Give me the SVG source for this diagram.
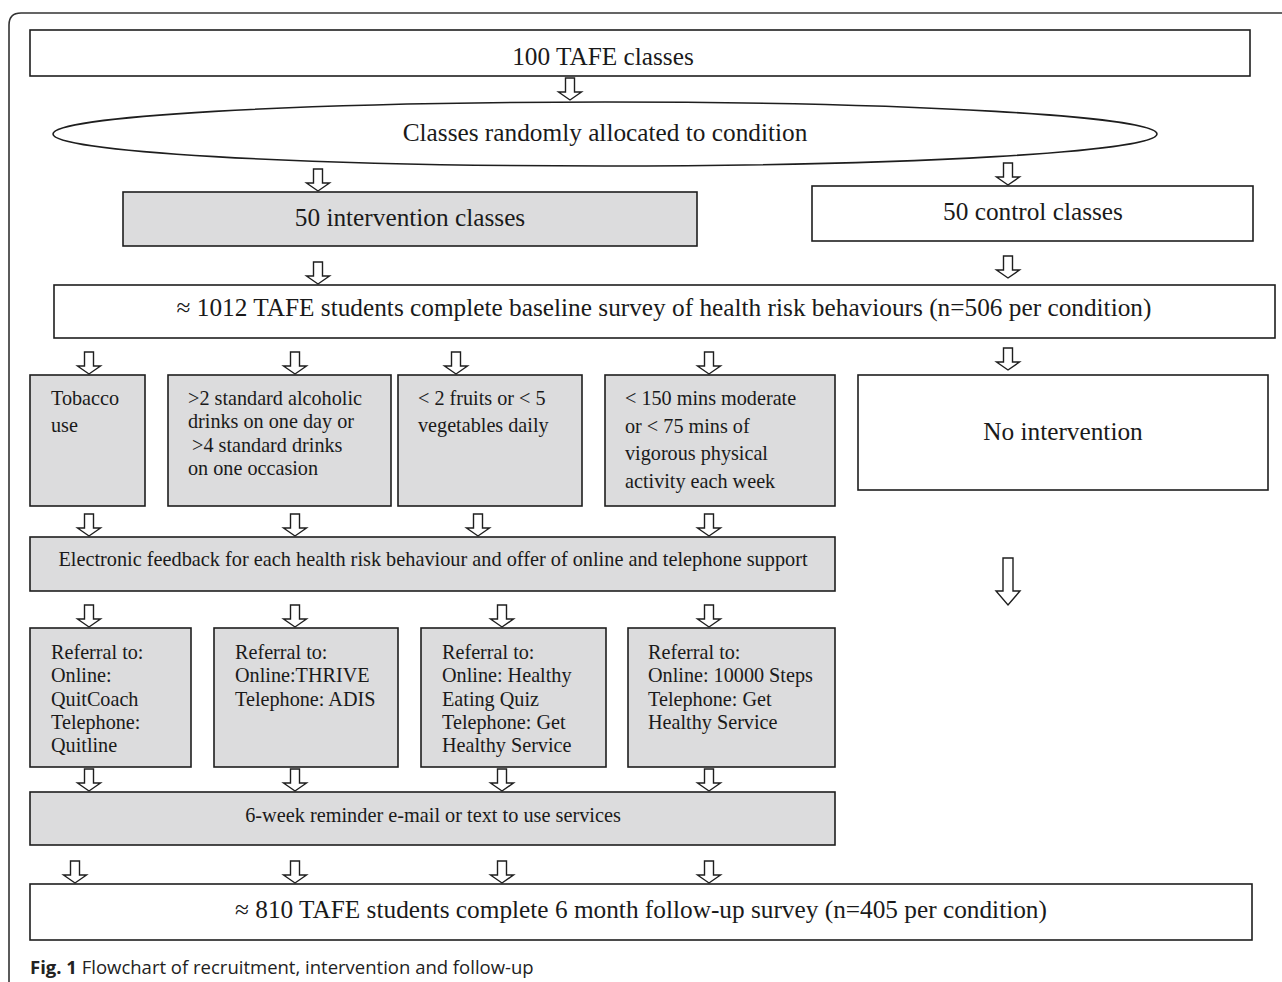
<svg xmlns="http://www.w3.org/2000/svg" xmlns:xlink="http://www.w3.org/1999/xlink" width="1282" height="982" viewBox="0 0 1282 982">
<style>
.box{stroke:#1e1e1e;stroke-width:1.6;}
.g{fill:#dcdcdd;}
.w{fill:#ffffff;}
.t{font-family:"Liberation Serif","Times New Roman",serif;fill:#1a1a1a;}
.big{font-size:25.3px;text-anchor:middle;}
.mid{font-size:20.3px;text-anchor:middle;}
.sm{font-size:20.2px;}
.arr{fill:#ffffff;stroke:#1e1e1e;stroke-width:1.4;}
.cap{font-family:"Open Sans","Noto Sans","Liberation Sans",sans-serif;font-size:18.5px;fill:#222;}
</style>
<defs>
<path id="a" class="arr" d="M-4.5,0 H4.5 V14 H11.5 L0,22 L-11.5,14 H-4.5 Z"/>
</defs>
<rect width="1282" height="982" fill="#ffffff"/>
<path d="M9,982 V25 Q9,13 21,13 H1282" fill="none" stroke="#333" stroke-width="1.6"/>

<g id="n1"><rect class="box w" x="30" y="30" width="1220" height="46"/><text class="t big" x="603" y="65">100 TAFE classes</text></g>
<g id="n2"><ellipse class="box w" cx="605" cy="134" rx="552" ry="32"/><text class="t big" x="605" y="141">Classes randomly allocated to condition</text></g>
<g id="n3"><rect class="box g" x="123" y="192" width="574" height="54"/><text class="t big" x="410" y="226">50 intervention classes</text></g>
<g id="n4"><rect class="box w" x="812" y="186" width="441" height="55"/><text class="t big" x="1033" y="220">50 control classes</text></g>
<g id="n5"><rect class="box w" x="54" y="285" width="1221" height="53"/><text class="t big" x="664" y="316">≈ 1012 TAFE students complete baseline survey of health risk behaviours (n=506 per condition)</text></g>

<g id="n6"><rect class="box g" x="30" y="375" width="115" height="131"/><text class="t sm" x="51" y="405">Tobacco</text><text class="t sm" x="51" y="432">use</text></g>
<g id="n7"><rect class="box g" x="168" y="375" width="223" height="131"/><text class="t sm" x="188" y="405">&gt;2 standard alcoholic</text><text class="t sm" x="188" y="428">drinks on one day or</text><text class="t sm" x="192" y="452">&gt;4 standard drinks</text><text class="t sm" x="188" y="475">on one occasion</text></g>
<g id="n8"><rect class="box g" x="398" y="375" width="184" height="131"/><text class="t sm" x="418" y="405">&lt; 2 fruits or &lt; 5</text><text class="t sm" x="418" y="432">vegetables daily</text></g>
<g id="n9"><rect class="box g" x="605" y="375" width="230" height="131"/><text class="t sm" x="625" y="405">&lt; 150 mins moderate</text><text class="t sm" x="625" y="433">or &lt; 75 mins of</text><text class="t sm" x="625" y="460">vigorous physical</text><text class="t sm" x="625" y="488">activity each week</text></g>
<g id="n10"><rect class="box w" x="858" y="375" width="410" height="115"/><text class="t big" x="1063" y="440">No intervention</text></g>

<g id="n11"><rect class="box g" x="30" y="537" width="805" height="54"/><text class="t mid" x="433" y="566">Electronic feedback for each health risk behaviour and offer of online and telephone support</text></g>

<g id="n12"><rect class="box g" x="30" y="628" width="161" height="139"/><text class="t sm" x="51" y="659">Referral to:</text><text class="t sm" x="51" y="682">Online:</text><text class="t sm" x="51" y="706">QuitCoach</text><text class="t sm" x="51" y="729">Telephone:</text><text class="t sm" x="51" y="752">Quitline</text></g>
<g id="n13"><rect class="box g" x="214" y="628" width="184" height="139"/><text class="t sm" x="235" y="659">Referral to:</text><text class="t sm" x="235" y="682">Online:THRIVE</text><text class="t sm" x="235" y="706">Telephone: ADIS</text></g>
<g id="n14"><rect class="box g" x="421" y="628" width="185" height="139"/><text class="t sm" x="442" y="659">Referral to:</text><text class="t sm" x="442" y="682">Online: Healthy</text><text class="t sm" x="442" y="706">Eating Quiz</text><text class="t sm" x="442" y="729">Telephone: Get</text><text class="t sm" x="442" y="752">Healthy Service</text></g>
<g id="n15"><rect class="box g" x="628" y="628" width="207" height="139"/><text class="t sm" x="648" y="659">Referral to:</text><text class="t sm" x="648" y="682">Online: 10000 Steps</text><text class="t sm" x="648" y="706">Telephone: Get</text><text class="t sm" x="648" y="729">Healthy Service</text></g>

<g id="n16"><rect class="box g" x="30" y="792" width="805" height="53"/><text class="t mid" x="433" y="822">6-week reminder e-mail or text to use services</text></g>
<g id="n17"><rect class="box w" x="30" y="884" width="1222" height="56"/><text class="t big" x="641" y="918">≈ 810 TAFE students complete 6 month follow-up survey (n=405 per condition)</text></g>

<g id="connectors">
<use xlink:href="#a" x="570" y="78"/>
<use xlink:href="#a" x="318" y="169"/>
<use xlink:href="#a" x="1008" y="163"/>
<use xlink:href="#a" x="318" y="262"/>
<use xlink:href="#a" x="1008" y="256"/>
<use xlink:href="#a" x="89" y="352"/>
<use xlink:href="#a" x="295" y="352"/>
<use xlink:href="#a" x="456" y="352"/>
<use xlink:href="#a" x="709" y="352"/>
<use xlink:href="#a" x="1008" y="348"/>
<use xlink:href="#a" x="89" y="514"/>
<use xlink:href="#a" x="295" y="514"/>
<use xlink:href="#a" x="478" y="514"/>
<use xlink:href="#a" x="709" y="514"/>
<path class="arr" d="M1003,558 H1013 V591 H1020 L1008,605 L996,591 H1003 Z"/>
<use xlink:href="#a" x="89" y="605"/>
<use xlink:href="#a" x="295" y="605"/>
<use xlink:href="#a" x="502" y="605"/>
<use xlink:href="#a" x="709" y="605"/>
<use xlink:href="#a" x="89" y="769"/>
<use xlink:href="#a" x="295" y="769"/>
<use xlink:href="#a" x="502" y="769"/>
<use xlink:href="#a" x="709" y="769"/>
<use xlink:href="#a" x="75" y="861"/>
<use xlink:href="#a" x="295" y="861"/>
<use xlink:href="#a" x="502" y="861"/>
<use xlink:href="#a" x="709" y="861"/>
</g>

<text class="cap" x="30" y="974"><tspan font-weight="bold">Fig. 1</tspan> Flowchart of recruitment, intervention and follow-up</text>
</svg>
